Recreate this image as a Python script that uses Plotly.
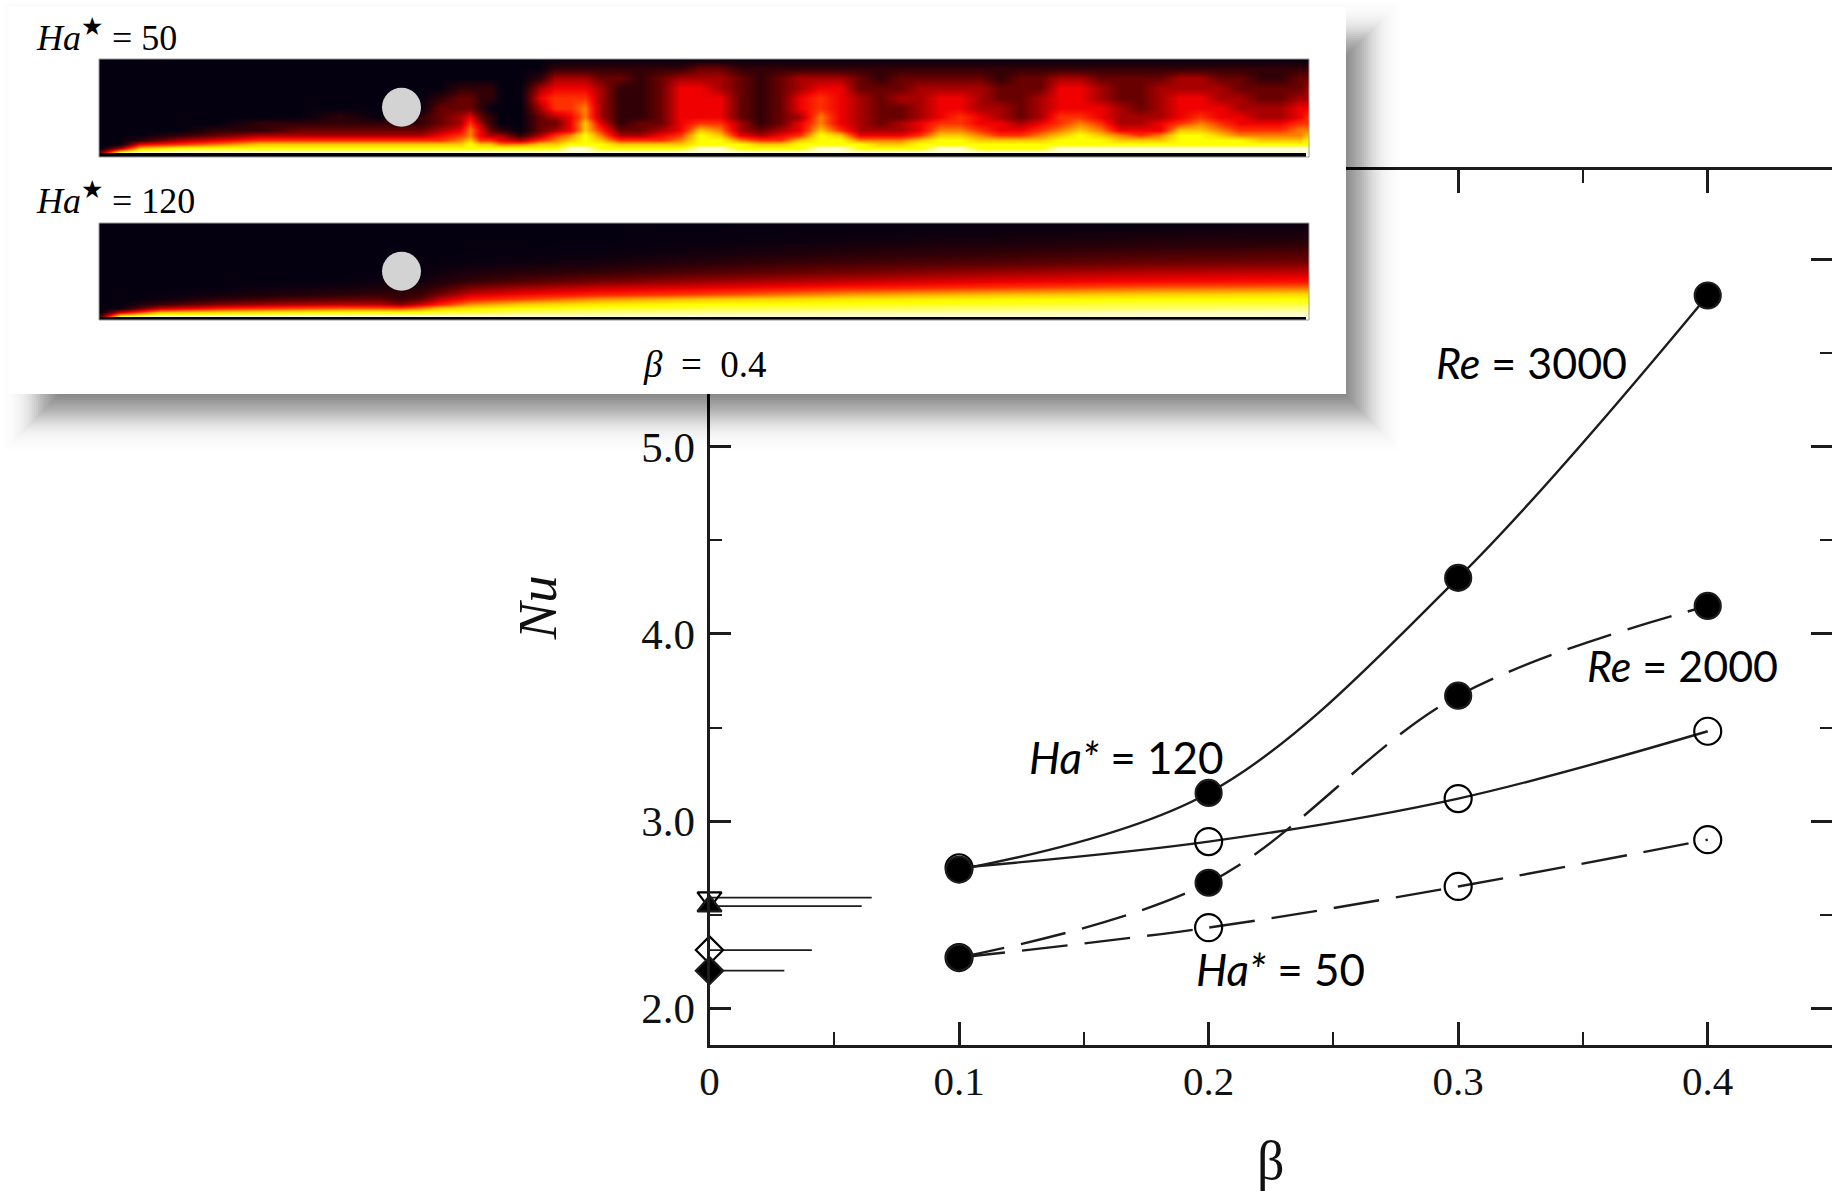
import math
import plotly.graph_objects as go

# ---------- main chart data ----------
beta = [0.1, 0.2, 0.3, 0.4]
nu_re3000_ha120 = [2.74, 3.15, 4.30, 5.81]
nu_re2000_ha120 = [2.27, 2.67, 3.67, 4.15]
nu_re3000_ha50 = [2.75, 2.89, 3.12, 3.48]
nu_re2000_ha50 = [2.27, 2.43, 2.65, 2.90]

beta0_nu = [2.59, 2.545, 2.31, 2.20]
beta0_reach = [0.065, 0.061, 0.041, 0.030]
beta0_symbol = ["triangle-down-open", "triangle-up", "diamond-open", "diamond"]

x_major = [0, 0.1, 0.2, 0.3, 0.4]
x_labels = ["0", "0.1", "0.2", "0.3", "0.4"]
x_minor = [0.05, 0.15, 0.25, 0.35]
y_major = [2, 3, 4, 5, 6]
y_labels = ["2.0", "3.0", "4.0", "5.0", ""]
y_minor = [2.5, 3.5, 4.5, 5.5]

# ---------- inset temperature fields ----------
# every entry is one column, top of channel to wall, level 0 (black) to 9 (pale yellow)
height = [94, 84.7, 74.7, 64.7, 54.7, 44.7, 36.3, 29.7, 23, 18, 13, 8.7, 4.7, 0.7]

ha50_pos = [100, 120, 140, 180, 220, 260, 300, 340, 380, 420, 440, 460, 470, 480, 490, 500,
            520, 540, 555, 570, 585, 600, 620, 640, 660, 680, 700, 720, 740, 760, 780, 800,
            820, 840, 860, 880, 900, 920, 940, 960, 980, 1000, 1020, 1040, 1060, 1080, 1100,
            1120, 1140, 1160, 1180, 1200, 1220, 1240, 1260, 1280, 1300, 1309]
ha50_columns = [
    "00000000000002", "00000000000038", "00000000001479", "00000000013589",
    "00000000124689", "00000001135789", "00000001235789", "00000011235789",
    "00000001235789", "00000011235789", "00001222345789", "00012233456789",
    "00012245667889", "00011123445789", "00011011235789", "00000000134689",
    "00000000013689", "00134322235789", "01345532356789", "01345544467899",
    "01345667788899", "01233334567889", "01211111235789", "01111112235789",
    "01222222345789", "01344444456789", "02344445788899", "02334445678899",
    "01222223346889", "01111111235789", "01222222345789", "01334434457889",
    "01345566788899", "01344444578899", "01223333346889", "01122222346789",
    "01223223346789", "01233334457889", "01234445678899", "01234455678899",
    "01233344567889", "01122334457889", "01222223457889", "01223334567889",
    "01344455678899", "01344456788899", "01233445678899", "01222333467899",
    "01222233457899", "01233334467899", "01334445788899", "01334456788899",
    "01233445678899", "01223344568899", "01122334567899", "01122334567899",
    "01223445667899", "01233455678899",
]
ha120_pos = [100, 120, 160, 220, 280, 340, 380, 400, 420, 440, 470, 520, 600, 700, 850, 1000,
             1150, 1309]
ha120_columns = [
    [0, 0, 0, 0, 0, 0, 0, 0, 0, 0, 0, 0, 0, 1.5],
    [0, 0, 0, 0, 0, 0, 0, 0, 0, 0, 0, 0.3, 3.5, 8],
    [0, 0, 0, 0, 0, 0, 0, 0, 0, 0.2, 1.2, 3.4, 6.8, 9],
    [0, 0, 0, 0, 0, 0, 0, 0, 0.3, 1, 2.4, 4.6, 7.3, 9],
    [0, 0, 0, 0, 0, 0, 0, 0.2, 0.6, 1.5, 3, 5.2, 7.6, 9],
    [0, 0, 0, 0, 0, 0, 0, 0.3, 0.9, 1.8, 3.3, 5.6, 7.9, 9],
    [0, 0, 0, 0, 0, 0, 0.2, 0.5, 1.1, 1.9, 3.2, 5.5, 8, 9],
    [0, 0, 0, 0, 0, 0, 0, 0.6, 1, 1.2, 2.5, 5.3, 8, 9],
    [0, 0, 0, 0, 0, 0, 0.3, 0.7, 1.1, 1.9, 3.5, 6, 8, 9],
    [0, 0, 0, 0, 0, 0.3, 0.6, 1.2, 2.2, 3.4, 4.7, 7, 8.2, 9],
    [0, 0, 0, 0, 0.1, 0.5, 1.1, 2.2, 3.5, 4.6, 6.2, 7.6, 8.3, 9],
    [0, 0, 0, 0, 0.2, 0.8, 1.6, 2.8, 4.1, 5.3, 7, 8, 8.5, 9],
    [0, 0, 0, 0.1, 0.4, 1.1, 2.2, 3.4, 4.7, 6.3, 7.6, 8.2, 8.6, 9],
    [0, 0, 0.1, 0.3, 0.8, 1.6, 2.8, 3.8, 5.2, 7, 8, 8.3, 8.7, 9],
    [0, 0.1, 0.3, 0.7, 1.3, 2.2, 3.4, 4.5, 6.3, 7.6, 8.1, 8.4, 8.8, 9],
    [0, 0.2, 0.5, 1, 1.6, 2.8, 3.9, 5, 6.8, 7.9, 8.2, 8.5, 8.8, 9],
    [0, 0.3, 0.7, 1.3, 2, 3.2, 4.2, 5.5, 7.1, 8, 8.3, 8.5, 8.9, 9],
    [0.1, 0.4, 0.8, 1.5, 2.2, 3.4, 4.4, 5.7, 7.3, 8, 8.3, 8.6, 8.9, 9],
]
cylinder_pos = [401.5]
cylinder_height = [45.7]

heat_scale = [
    [0 / 9, "#050010"], [1 / 9, "#300006"], [2 / 9, "#680000"], [3 / 9, "#a80000"],
    [4 / 9, "#f00000"], [5 / 9, "#ff3000"], [6 / 9, "#ff8000"], [7 / 9, "#ffc800"],
    [8 / 9, "#ffff00"], [9 / 9, "#ffffd0"],
]

W, H = 1832, 1191
INK = "#1c1c1c"
SERIF = "Liberation Serif"
SANS = "Lato"


def dom_x(a, b):
    return [a / W, b / W]


def dom_y(top, bottom):
    return [1 - bottom / H, 1 - top / H]


def to_rows(columns):
    # wall first, so the heights ascend
    return [[float(c[r]) for c in columns] for r in range(len(height) - 1, -1, -1)]


fig = go.Figure()


def curve(y, dash, symbol, size):
    fig.add_trace(go.Scatter(
        x=beta, y=y, mode="lines+markers", xaxis="x", yaxis="y", cliponaxis=False,
        line=dict(color=INK, width=2.4, dash=dash, shape="spline", smoothing=1.0),
        marker=dict(symbol=symbol, size=size, color="#000000", line=dict(color=INK, width=2.2)),
        hoverinfo="skip",
    ))


curve(nu_re3000_ha50, "solid", "circle-open", 27)
curve(nu_re2000_ha50, "46px,17px", "circle-open", 27)
curve(nu_re3000_ha120, "solid", "circle", 26)
curve(nu_re2000_ha120, "46px,17px", "circle", 26)

for nu, reach, sym in zip(beta0_nu, beta0_reach, beta0_symbol):
    fig.add_trace(go.Scatter(
        x=[0, reach], y=[nu, nu], mode="lines", xaxis="x", yaxis="y", cliponaxis=False,
        line=dict(color=INK, width=1.8), hoverinfo="skip",
    ))
    fig.add_trace(go.Scatter(
        x=[0], y=[nu], mode="markers", xaxis="x", yaxis="y", cliponaxis=False,
        marker=dict(symbol=sym, size=21, color="#000000", line=dict(color=INK, width=2.2)),
        hoverinfo="skip",
    ))

# pixel-space overlay that carries the white card
fig.add_trace(go.Scatter(x=[0], y=[0], mode="markers", xaxis="x2", yaxis="y2",
                         marker=dict(size=1, opacity=0), hoverinfo="skip"))

for pos, cols, xa, ya in [(ha50_pos, ha50_columns, "x3", "y3"), (ha120_pos, ha120_columns, "x4", "y4")]:
    fig.add_trace(go.Heatmap(
        x=pos, y=height[::-1], z=to_rows(cols), xaxis=xa, yaxis=ya, zmin=0, zmax=9, zsmooth="best",
        colorscale=heat_scale, showscale=False, hoverinfo="skip",
    ))
    fig.add_trace(go.Scatter(
        x=cylinder_pos, y=cylinder_height, mode="markers", xaxis=xa, yaxis=ya,
        marker=dict(size=39, color="#d3d3d3"), hoverinfo="skip",
    ))

shapes = []
# drop shadow: stacked translucent rectangles with a bell-shaped profile under the card
SIGMA = 18
for e in range(-48, 50, 2):
    alpha = 0.68 * (2 / (SIGMA * math.sqrt(2 * math.pi))) * math.exp(-e * e / (2 * SIGMA * SIGMA))
    shapes.append(dict(type="rect", xref="x2", yref="y2", layer="below", x0=46 - e, x1=1358 + e,
                       y0=44 - e, y1=408 + e, fillcolor="#000000", opacity=alpha, line_width=0))
shapes.append(dict(type="rect", xref="x2", yref="y2", layer="below", x0=9, x1=1346, y0=7, y1=394,
                   fillcolor="#ffffff", line_width=0))
# wall bars and frames of the two fields
for top, bottom, wall in [(59, 153, 157), (223, 317, 320)]:
    shapes.append(dict(type="rect", xref="x2", yref="y2", layer="above", x0=99, x1=1306, y0=bottom,
                       y1=wall, fillcolor="#000000", line_width=0))
    shapes.append(dict(type="rect", xref="x2", yref="y2", layer="above", x0=99, x1=1309, y0=top,
                       y1=wall, fillcolor="rgba(0,0,0,0)", line=dict(color="#9a9a9a", width=1)))
fig.update_layout(shapes=shapes)


def label(text, x, y, font, size, xref, yref):
    return dict(text=text, x=x, y=y, xref=xref, yref=yref, showarrow=False, xanchor="center",
                yanchor="middle", font=dict(family=font, size=size, color="#000000"))


annotations = [
    label("<i>Re</i> = 3000", 0.3295, 5.45, SANS, 43, "x", "y"),
    label("<i>Re</i> = 2000", 0.390, 3.83, SANS, 43, "x", "y"),
    label("<i>Ha*</i> = 120", 0.167, 3.34, SANS, 44, "x", "y"),
    label("<i>Ha*</i> = 50", 0.229, 2.21, SANS, 44, "x", "y"),
    label("<i>Ha</i><sup>★</sup> = 50", 106, 35, SERIF, 36, "x2", "y2"),
    label("<i>Ha</i><sup>★</sup> = 120", 115, 198, SERIF, 36, "x2", "y2"),
    label("<i>β</i>\u2002=\u20020.4", 705, 364, SERIF, 37, "x2", "y2"),
]

hidden = dict(visible=False, fixedrange=True)
fig.update_layout(
    width=W, height=H, margin=dict(l=0, r=0, t=0, b=0, pad=0), autosize=False,
    paper_bgcolor="#ffffff", plot_bgcolor="rgba(0,0,0,0)", showlegend=False, template="none",
    annotations=annotations,
    xaxis=dict(
        domain=dom_x(709.5, 1832), range=[0, 0.4498], tickmode="array", tickvals=x_major, ticktext=x_labels,
        ticks="inside", ticklen=23, tickwidth=3, tickcolor=INK, showline=True, linewidth=3, linecolor=INK,
        mirror="ticks", showgrid=False, zeroline=False, ticklabelstandoff=-2,
        tickfont=dict(family=SERIF, size=41, color="#111111"),
        minor=dict(tickmode="array", tickvals=x_minor, ticks="inside", ticklen=13, tickwidth=1.8, tickcolor=INK, showgrid=False),
        title=dict(text="β", standoff=39, font=dict(family=SERIF, size=54, color="#111111")),
    ),
    yaxis=dict(
        domain=dom_y(170, 1044.5), range=[1.805, 6.481], tickmode="array", tickvals=y_major, ticktext=y_labels,
        ticks="inside", ticklen=21, tickwidth=3, tickcolor=INK, showline=True, linewidth=3, linecolor=INK,
        mirror="ticks", showgrid=False, zeroline=False, ticklabelstandoff=3,
        tickfont=dict(family=SERIF, size=43, color="#111111"),
        minor=dict(tickmode="array", tickvals=y_minor, ticks="inside", ticklen=12, tickwidth=1.8, tickcolor=INK, showgrid=False),
        title=dict(text="<i>Nu</i>", standoff=67, font=dict(family=SERIF, size=55, color="#111111")),
    ),
    xaxis2=dict(hidden, domain=[0, 1], range=[0, W], anchor="y2"),
    yaxis2=dict(hidden, domain=[0, 1], range=[H, 0], anchor="x2"),
    xaxis3=dict(hidden, domain=dom_x(99, 1309), range=[99, 1309], anchor="y3"),
    yaxis3=dict(hidden, domain=dom_y(59, 153), range=[0, 94], anchor="x3"),
    xaxis4=dict(hidden, domain=dom_x(99, 1309), range=[99, 1309], anchor="y4"),
    yaxis4=dict(hidden, domain=dom_y(223, 317), range=[0, 94], anchor="x4"),
)

fig.write_html("out.html", post_script="document.body.style.margin='0';document.body.style.overflow='hidden';",
               config=dict(displayModeBar=False))
